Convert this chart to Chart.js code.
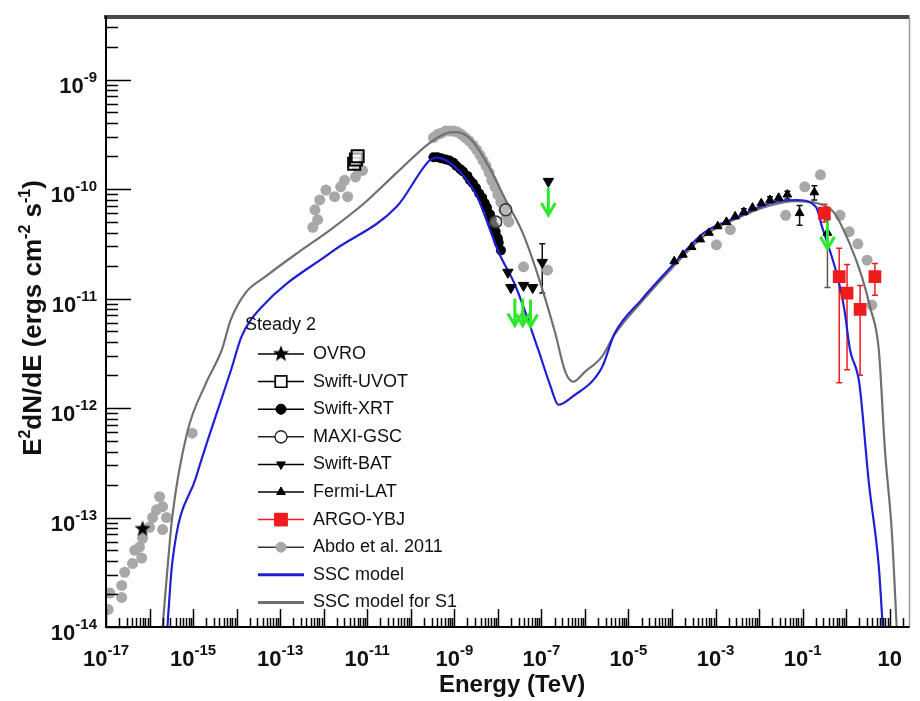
<!DOCTYPE html>
<html>
<head>
<meta charset="utf-8">
<script src="https://cdn.jsdelivr.net/npm/chart.js@4.4.0/dist/chart.umd.min.js"></script>
<style>
  body { margin: 0; background: #fff; }
  canvas { display: block; }
</style>
</head>
<body>
<canvas id="sedGraph" width="920" height="701"></canvas>
<script>
// all values are log10 : energy in TeV, flux E^2dN/dE in ergs cm^-2 s^-1
var ovroE = [-16.16];
var ovroF = [-13.10];

var uvotE = [-11.30, -11.26, -11.22];
var uvotF = [-9.77, -9.73, -9.70];

var xrtE = [-9.48, -9.39, -9.30, -9.20, -9.11, -9.02, -8.95, -8.86, -8.80, -8.70, -8.64, -8.57,
            -8.50, -8.43, -8.36, -8.30, -8.25, -8.18, -8.14, -8.09, -8.05, -8.00, -7.98, -7.93];
var xrtF = [-9.71, -9.71, -9.72, -9.73, -9.74, -9.76, -9.79, -9.82, -9.84, -9.88, -9.92, -9.95,
            -9.99, -10.04, -10.08, -10.13, -10.17, -10.23, -10.28, -10.34, -10.39, -10.45, -10.49, -10.56];

var maxiE = [-8.05, -7.82];
var maxiF = [-10.30, -10.19];

var batE = [-7.77, -7.70, -7.41, -7.20, -6.98, -6.84];
var batF = [-10.76, -10.90, -10.88, -10.90, -10.67, -9.93];

var fermiE = [-3.95, -3.75, -3.55, -3.35, -3.15, -2.95, -2.75, -2.55, -2.35, -2.15, -1.95, -1.75,
              -1.55, -1.35, -1.07, -0.73, -0.43];
var fermiF = [-10.66, -10.60, -10.53, -10.46, -10.40, -10.34, -10.30, -10.25, -10.21, -10.17, -10.13, -10.10,
              -10.08, -10.05, -10.22, -10.03, -10.40];

var argoE = [-0.50, -0.16, 0.02, 0.32, 0.66];
var argoF = [-10.22, -10.80, -10.95, -11.10, -10.80];
var argoHi = [-10.14, -10.54, -10.69, -10.88, -10.68];
var argoLo = [-10.30, -11.77, -11.65, -11.70, -10.97];

var abdoE = [-16.95, -16.91, -16.64, -16.64, -16.57, -16.39, -16.34, -16.23, -16.18, -16.16, -16.00, -15.93,
             -15.84, -15.77, -15.70, -15.70, -15.61, -15.02,
             -12.25, -12.20, -12.14, -12.09, -11.95, -11.75, -11.61, -11.52, -11.45, -11.27, -11.23, -11.11,
             -9.48, -9.38, -9.30, -9.20, -9.11, -9.02, -8.93, -8.84, -8.75, -8.66, -8.57, -8.49, -8.41,
             -8.34, -8.27, -8.20, -8.14, -8.07, -8.00, -7.93, -7.86, -7.80, -7.75, -7.41, -6.86,
             -2.98, -2.66, -1.39, -0.95, -0.59, -0.14, 0.07, 0.27, 0.48, 0.59];
var abdoF = [-13.84, -13.69, -13.73, -13.62, -13.50, -13.42, -13.30, -13.27, -13.37, -13.19, -13.09, -13.00,
             -12.93, -12.81, -12.90, -13.11, -13.00, -12.23,
             -10.35, -10.19, -10.28, -10.10, -10.01, -10.07, -9.98, -9.92, -10.07, -9.89, -9.80, -9.83,
             -9.53, -9.50, -9.49, -9.47, -9.47, -9.47, -9.48, -9.50, -9.53, -9.56, -9.60, -9.64, -9.69,
             -9.74, -9.79, -9.85, -9.92, -9.98, -10.05, -10.12, -10.19, -10.25, -10.30, -10.71, -10.74,
             -10.51, -10.37, -10.24, -9.98, -9.87, -10.24, -10.39, -10.50, -10.65, -11.06];

var sscE = [-15.59, -15.48, -14.93, -14.11, -13.89, -13.43, -11.84, -10.32, -9.57, -9.41, -8.95, -8.50,
            -7.98, -7.59, -7.07, -6.80, -6.61, -6.30, -5.61, -5.32, -4.70, -4.02, -3.27, -2.52,
            -1.75, -1.16, -0.70, -0.55, -0.36, -0.20, -0.05, 0.09, 0.30, 0.52, 0.75, 0.84];
var sscF = [-14.00, -13.42, -12.63, -11.63, -11.35, -11.08, -10.58, -10.16, -9.74, -9.71, -9.81, -10.05,
            -10.58, -10.89, -11.47, -11.79, -11.97, -11.90, -11.63, -11.32, -11.01, -10.71, -10.40, -10.26,
            -10.13, -10.10, -10.16, -10.35, -10.58, -10.80, -11.08, -11.47, -11.77, -12.68, -13.45, -14.00];

var s1E = [-15.70, -15.61, -15.48, -15.14, -14.70, -14.34, -14.14, -13.80, -13.34, -12.59, -11.84, -11.07,
           -10.32, -9.57, -9.18, -8.95, -8.61, -8.20, -7.82, -7.43, -7.07, -6.68, -6.45, -6.27,
           -6.00, -5.61, -5.32, -4.70, -4.02, -3.27, -2.52, -1.75, -1.16, -0.66, -0.27, 0.07,
           0.36, 0.55, 0.75, 0.89, 1.05, 1.16];
var s1F = [-14.00, -13.57, -13.00, -12.23, -11.77, -11.47, -11.20, -10.95, -10.80, -10.58, -10.37, -10.13,
           -9.85, -9.58, -9.49, -9.48, -9.55, -9.80, -10.10, -10.40, -10.80, -11.32, -11.67, -11.76,
           -11.67, -11.53, -11.33, -11.03, -10.73, -10.43, -10.27, -10.15, -10.11, -10.13, -10.22, -10.49,
           -10.80, -11.08, -11.47, -12.38, -13.14, -14.00];

// black error bars (log E, log hi, log lo)
var errE = [-7.82, -6.98, -1.07, -0.73, -0.43, -1.35, -1.75, -2.35];
var errHi = [-10.14, -10.50, -10.15, -9.97, -10.28, -10.02, -10.07, -10.18];
var errLo = [-10.24, -10.95, -10.33, -10.10, -10.90, -10.09, -10.13, -10.24];

// upper limits (green arrows)
var ulE = [-7.61, -7.43, -7.25, -6.84, -0.43];
var ulF = [-11.00, -11.00, -11.01, -9.99, -10.30];

var legendNames = ['OVRO', 'Swift-UVOT', 'Swift-XRT', 'MAXI-GSC', 'Swift-BAT', 'Fermi-LAT',
                   'ARGO-YBJ', 'Abdo et al. 2011', 'SSC model', 'SSC model for S1'];

var FONT = '"Liberation Sans", Arial, sans-serif';
var BLUE = '#1f1fd6';
var GREYLINE = '#707070';
var GREYDOT = '#a8a8a8';
var RED = '#ee1c1c';
var GREEN = '#2ee82e';

function pts(lx, ly) {
    return lx.map(function (v, i) { return { x: Math.pow(10, v), y: Math.pow(10, ly[i]) }; });
}

// five pointed star used for OVRO
var starImg = document.createElement('canvas');
starImg.width = 18; starImg.height = 18;
(function () {
    var c = starImg.getContext('2d');
    c.beginPath();
    for (var i = 0; i < 10; i++) {
        var r = (i % 2 === 0) ? 8.5 : 3.6;
        var a = -Math.PI / 2 + i * Math.PI / 5;
        var px = 9 + r * Math.cos(a), py = 9.5 + r * Math.sin(a);
        if (i === 0) c.moveTo(px, py); else c.lineTo(px, py);
    }
    c.closePath();
    c.fillStyle = '#000';
    c.fill();
})();

function drawPow(ctx, exp, x, y, align, big, small) {
    var base = '10';
    ctx.font = 'bold ' + big + 'px ' + FONT;
    var wb = ctx.measureText(base).width;
    var we = 0;
    if (exp !== null) {
        ctx.font = 'bold ' + small + 'px ' + FONT;
        we = ctx.measureText(exp).width;
    }
    var x0 = align === 'right' ? x - wb - we : x - (wb + we) / 2;
    ctx.textAlign = 'left';
    ctx.textBaseline = 'alphabetic';
    ctx.font = 'bold ' + big + 'px ' + FONT;
    ctx.fillText(base, x0, y);
    if (exp !== null) {
        ctx.font = 'bold ' + small + 'px ' + FONT;
        ctx.fillText(exp, x0 + wb, y - 11);
    }
}

function drawArrow(ctx, x, y, len) {
    ctx.save();
    ctx.strokeStyle = GREEN;
    ctx.lineWidth = 3;
    ctx.beginPath();
    ctx.moveTo(x, y);
    ctx.lineTo(x, y + len - 2);
    ctx.moveTo(x - 7, y + len - 12);
    ctx.lineTo(x, y + len);
    ctx.lineTo(x + 7, y + len - 12);
    ctx.stroke();
    ctx.restore();
}

var errorPlugin = {
    id: 'errorPlugin',
    beforeDatasetsDraw: function (chart) {
        var ctx = chart.ctx, xs = chart.scales.x, ys = chart.scales.y;
        ctx.save();
        function bar(le, hi, lo, col) {
            var x = xs.getPixelForValue(Math.pow(10, le));
            var y1 = ys.getPixelForValue(Math.pow(10, hi));
            var y2 = ys.getPixelForValue(Math.pow(10, lo));
            ctx.strokeStyle = col;
            ctx.lineWidth = 1.5;
            ctx.beginPath();
            ctx.moveTo(x, y1); ctx.lineTo(x, y2);
            ctx.moveTo(x - 3, y1); ctx.lineTo(x + 3, y1);
            ctx.moveTo(x - 3, y2); ctx.lineTo(x + 3, y2);
            ctx.stroke();
        }
        errE.forEach(function (v, i) { bar(v, errHi[i], errLo[i], i === 4 ? '#555' : '#111'); });
        argoE.forEach(function (v, i) { bar(v, argoHi[i], argoLo[i], RED); });
        ctx.restore();
    },
    afterDatasetsDraw: function (chart) {
        var ctx = chart.ctx, xs = chart.scales.x, ys = chart.scales.y;
        ulE.forEach(function (v, i) {
            var x = xs.getPixelForValue(Math.pow(10, v));
            var y = ys.getPixelForValue(Math.pow(10, ulF[i]));
            drawArrow(ctx, x, y, 27);
        });
    }
};

var framePlugin = {
    id: 'framePlugin',
    afterDraw: function (chart) {
        var ctx = chart.ctx, xs = chart.scales.x, ys = chart.scales.y, a = chart.chartArea;
        ctx.save();
        // frame
        ctx.strokeStyle = '#4a4a4a';
        ctx.lineWidth = 4;
        ctx.beginPath(); ctx.moveTo(a.left - 2, a.top - 1); ctx.lineTo(a.right, a.top - 1); ctx.stroke();
        ctx.strokeStyle = '#9a9a9a';
        ctx.lineWidth = 1.5;
        ctx.beginPath(); ctx.moveTo(a.right, a.top); ctx.lineTo(a.right, a.bottom); ctx.stroke();
        ctx.strokeStyle = '#000';
        ctx.lineWidth = 2;
        ctx.beginPath();
        ctx.moveTo(a.left, a.top - 2); ctx.lineTo(a.left, a.bottom); ctx.lineTo(a.right, a.bottom);
        ctx.stroke();

        // ticks, drawn inside the frame
        ctx.lineWidth = 1.5;
        ctx.beginPath();
        for (var n = -14; n <= -8; n++) {
            for (var m = 1; m <= 9; m++) {
                var v = m * Math.pow(10, n);
                if (v > ys.max) continue;
                var y = Math.round(ys.getPixelForValue(v)) + 0.5;
                ctx.moveTo(a.left, y); ctx.lineTo(a.left + (m === 1 ? 25 : 12), y);
            }
        }
        for (n = -17; n <= 1; n++) {
            for (m = 1; m <= 9; m++) {
                v = m * Math.pow(10, n);
                if (v > xs.max) continue;
                var x = Math.round(xs.getPixelForValue(v)) + 0.5;
                ctx.moveTo(x, a.bottom); ctx.lineTo(x, a.bottom - (m === 1 ? 18 : 9));
            }
        }
        ctx.stroke();

        // tick labels
        ctx.fillStyle = '#111';
        for (n = -14; n <= -9; n++) {
            drawPow(ctx, String(n), 97, ys.getPixelForValue(Math.pow(10, n)) + 13, 'right', 22, 15);
        }
        for (n = -17; n <= 1; n += 2) {
            drawPow(ctx, n === 1 ? null : String(n), xs.getPixelForValue(Math.pow(10, n)), 666, 'center', 22, 15);
        }

        // axis titles
        ctx.font = 'bold 24px ' + FONT;
        ctx.textAlign = 'center';
        ctx.textBaseline = 'alphabetic';
        ctx.fillText('Energy (TeV)', 512, 692);

        var parts = [['E', 0], ['2', 1], ['dN/dE (ergs cm', 0], ['-2', 1], [' s', 0], ['-1', 1], [')', 0]];
        var total = 0;
        parts.forEach(function (p) {
            ctx.font = 'bold ' + (p[1] ? 16 : 26) + 'px ' + FONT;
            p.push(ctx.measureText(p[0]).width);
            total += p[2];
        });
        ctx.translate(41, 318);
        ctx.rotate(-Math.PI / 2);
        ctx.textAlign = 'left';
        var cx = -total / 2;
        parts.forEach(function (p) {
            ctx.font = 'bold ' + (p[1] ? 16 : 26) + 'px ' + FONT;
            ctx.fillText(p[0], cx, p[1] ? -11 : 0);
            cx += p[2];
        });
        ctx.restore();

        // legend
        ctx.save();
        ctx.font = '18px ' + FONT;
        ctx.fillStyle = '#111';
        ctx.textAlign = 'left';
        ctx.textBaseline = 'middle';
        ctx.fillText('Steady 2', 245, 325);
        var styles = [
            { ps: starImg, r: 8, line: '#000' },
            { ps: 'rect', r: 8, line: '#000', fill: '#fff', bw: 1.5 },
            { ps: 'circle', r: 5, line: '#000', fill: '#000' },
            { ps: 'circle', r: 6, line: '#222', fill: '#fff', bw: 1.2 },
            { ps: 'triangle', r: 5, rot: 180, line: '#000', fill: '#000' },
            { ps: 'triangle', r: 5, line: '#000', fill: '#000' },
            { ps: 'rect', r: 9, line: RED, fill: RED },
            { ps: 'circle', r: 5, line: '#333', fill: GREYDOT, dot: GREYDOT },
            { line: BLUE, lw: 3 },
            { line: GREYLINE, lw: 3 }
        ];
        legendNames.forEach(function (name, i) {
            var y = 354 + i * 27.6;
            var s = styles[i];
            ctx.strokeStyle = s.line;
            ctx.lineWidth = s.lw || 1.5;
            ctx.beginPath(); ctx.moveTo(258, y); ctx.lineTo(304, y); ctx.stroke();
            if (s.ps) {
                ctx.fillStyle = s.fill || '#000';
                ctx.strokeStyle = s.dot || s.line;
                ctx.lineWidth = s.bw || 1;
                if (s.ps === starImg) {
                    ctx.drawImage(starImg, 281 - 9, y - 9.5);
                } else {
                    Chart.helpers.drawPoint(ctx, { pointStyle: s.ps, radius: s.r, rotation: s.rot || 0, borderWidth: s.bw || 1 }, 281, y);
                    ctx.fill();
                    if (s.bw) ctx.stroke();
                }
            }
            ctx.fillStyle = '#111';
            ctx.fillText(name, 313, y);
        });
        ctx.restore();
    }
};

var sedConfig = {
    type: 'scatter',
    data: {
        datasets: [
            { label: 'OVRO', data: pts(ovroE, ovroF), pointStyle: starImg, order: 1 },
            { label: 'ARGO-YBJ', data: pts(argoE, argoF), pointStyle: 'rect', pointRadius: 9,
              backgroundColor: RED, borderColor: RED, borderWidth: 0, order: 1 },
            { label: 'Swift-UVOT', data: pts(uvotE, uvotF), pointStyle: 'rect', pointRadius: 8.5,
              backgroundColor: 'rgba(255,255,255,0.6)', borderColor: '#000', borderWidth: 2, order: 2 },
            { label: 'Swift-BAT', data: pts(batE, batF), pointStyle: 'triangle', rotation: 180, pointRadius: 6,
              backgroundColor: '#000', borderColor: '#000', borderWidth: 1, order: 2 },
            { label: 'Fermi-LAT', data: pts(fermiE, fermiF), pointStyle: 'triangle', pointRadius: 5,
              backgroundColor: '#000', borderColor: '#000', borderWidth: 1, order: 2 },
            { label: 'MAXI-GSC', data: pts(maxiE, maxiF), pointStyle: 'circle', pointRadius: 6,
              backgroundColor: 'rgba(200,200,200,0.5)', borderColor: '#333', borderWidth: 1.5, order: 3 },
            { label: 'SSC model', data: pts(sscE, sscF), showLine: true, pointRadius: 0,
              borderColor: BLUE, borderWidth: 2.2, cubicInterpolationMode: 'monotone', order: 4 },
            { label: 'Swift-XRT', data: pts(xrtE, xrtF), pointStyle: 'circle', pointRadius: 5,
              backgroundColor: '#000', borderWidth: 0, order: 5 },
            { label: 'SSC model for S1', data: pts(s1E, s1F), showLine: true, pointRadius: 0,
              borderColor: GREYLINE, borderWidth: 2.2, cubicInterpolationMode: 'monotone', order: 6 },
            { label: 'Abdo et al. 2011', data: pts(abdoE, abdoF), pointStyle: 'circle', pointRadius: 5.5,
              backgroundColor: GREYDOT, borderWidth: 0, order: 7 }
        ]
    },
    options: {
        responsive: false,
        animation: false,
        events: [],
        layout: { padding: { left: 106, top: 18, right: 2, bottom: 74 } },
        scales: {
            x: { type: 'logarithmic', display: false, min: 1e-17, max: Math.pow(10, 1.4545) },
            y: { type: 'logarithmic', display: false, min: 1e-14, max: Math.pow(10, -8.438) }
        },
        plugins: {
            legend: { display: false },
            tooltip: { enabled: false }
        }
    },
    plugins: [errorPlugin, framePlugin]
};

var sedCtx = document.getElementById('sedGraph');
var sedChart = new Chart(sedCtx, sedConfig);
</script>
</body>
</html>
